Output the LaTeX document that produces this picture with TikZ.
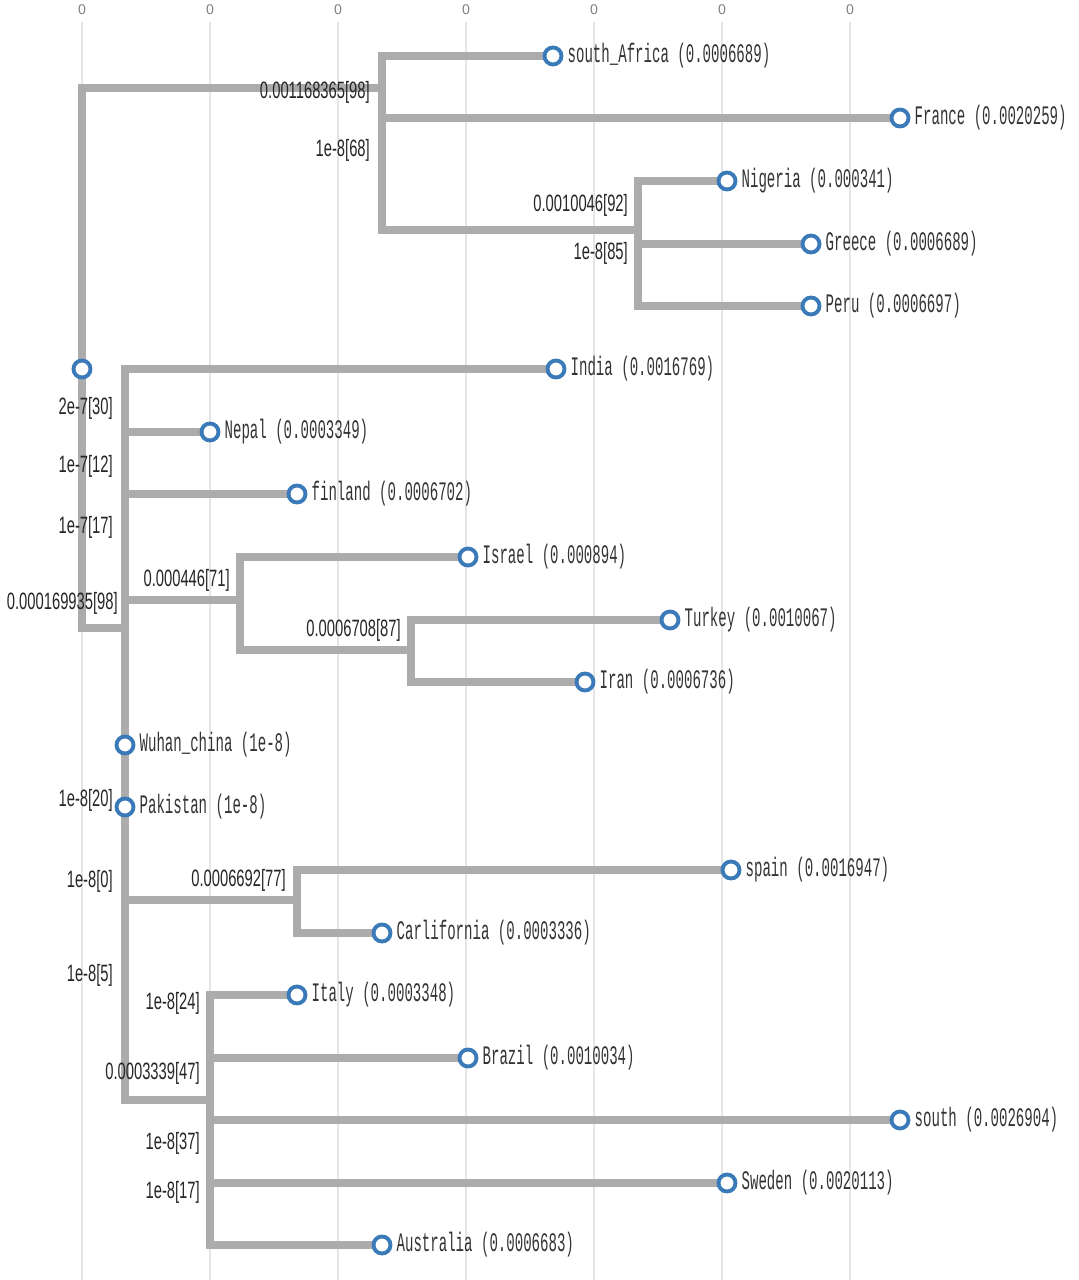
\documentclass[tikz,border=0pt]{standalone}
\usepackage{fontspec}
\setmonofont{Liberation Mono}
\setsansfont{Liberation Sans}
\usetikzlibrary{positioning}
\definecolor{nodeblue}{RGB}{58,122,184}
\begin{document}
\begin{tikzpicture}[x=0.01cm,y=-0.01cm,
  branch/.style={draw=gray!65,line width=2.2pt},
  leaf/.style={circle,draw=nodeblue,fill=white,line width=1.1pt,inner sep=0pt,minimum size=0.17cm},
  taxon/.style={right,inner sep=1pt,font=\ttfamily\fontsize{4}{5}\selectfont,yscale=1.9,transform shape,text=black!80},
  blen/.style={left,inner sep=1pt,font=\sffamily\fontsize{4.2}{5}\selectfont,yscale=1.6,transform shape,text=black!85}]
  \useasboundingbox (0,0) rectangle (1078,1280);
  % grid
  \foreach \gx in {82,210,338,466,594,722,850}{
    \draw[gray!20,line width=0.4pt] (\gx,22) -- (\gx,1280);
    \node[font=\sffamily\fontsize{4}{5}\selectfont,text=gray] at (\gx,10) {0};}
  % inner points
  \coordinate (r) at (82,369);
  \coordinate (a) at (382,88);
  \coordinate (b) at (638,230);
  \coordinate (c) at (125,628);
  \coordinate (d) at (240,600);
  \coordinate (e) at (411,650);
  \coordinate (f) at (297,900);
  \coordinate (g) at (210,1100);
  % leaves
  \coordinate (sa) at (553,56);
  \coordinate (fr) at (900,118);
  \coordinate (ng) at (727,181);
  \coordinate (gr) at (811,244);
  \coordinate (pe) at (811,306);
  \coordinate (in) at (556,369);
  \coordinate (ne) at (210,432);
  \coordinate (fi) at (297,494);
  \coordinate (is) at (468,557);
  \coordinate (tu) at (670,620);
  \coordinate (ir) at (585,682);
  \coordinate (wu) at (125,745);
  \coordinate (pa) at (125,807);
  \coordinate (sp) at (731,870);
  \coordinate (ca) at (382,933);
  \coordinate (it) at (297,995);
  \coordinate (br) at (468,1058);
  \coordinate (so) at (900,1120);
  \coordinate (sw) at (727,1183);
  \coordinate (au) at (382,1245);
  % branches
  \path[branch] (r) |- (a) (a) |- (sa) (a) |- (fr) (a) |- (b)
    (b) |- (ng) (b) |- (gr) (b) |- (pe)
    (r) |- (c) (c) |- (in) (c) |- (ne) (c) |- (fi) (c) |- (d)
    (d) |- (is) (d) |- (e) (e) |- (tu) (e) |- (ir)
    (c) -- (wu) (c) |- (f) (f) |- (sp) (f) |- (ca)
    (c) |- (g) (g) |- (it) (g) |- (br) (g) |- (so) (g) |- (sw) (g) |- (au);
  \foreach \n in {r,sa,fr,ng,gr,pe,in,ne,fi,is,tu,ir,wu,pa,sp,ca,it,br,so,sw,au}
    \node[leaf] (\n c) at (\n) {};
  % names
  \node[taxon] at (sac.east) {south\_Africa (0.0006689)};
  \node[taxon] at (frc.east) {France (0.0020259)};
  \node[taxon] at (ngc.east) {Nigeria (0.000341)};
  \node[taxon] at (grc.east) {Greece (0.0006689)};
  \node[taxon] at (pec.east) {Peru (0.0006697)};
  \node[taxon] at (inc.east) {India (0.0016769)};
  \node[taxon] at (nec.east) {Nepal (0.0003349)};
  \node[taxon] at (fic.east) {finland (0.0006702)};
  \node[taxon] at (isc.east) {Israel (0.000894)};
  \node[taxon] at (tuc.east) {Turkey (0.0010067)};
  \node[taxon] at (irc.east) {Iran (0.0006736)};
  \node[taxon] at (wuc.east) {Wuhan\_china (1e-8)};
  \node[taxon] at (pac.east) {Pakistan (1e-8)};
  \node[taxon] at (spc.east) {spain (0.0016947)};
  \node[taxon] at (cac.east) {Carlifornia (0.0003336)};
  \node[taxon] at (itc.east) {Italy (0.0003348)};
  \node[taxon] at (brc.east) {Brazil (0.0010034)};
  \node[taxon] at (soc.east) {south (0.0026904)};
  \node[taxon] at (swc.east) {Sweden (0.0020113)};
  \node[taxon] at (auc.east) {Australia (0.0006683)};
  % branch lengths
  \node[blen] at (374,92) {0.001168365[98]};
  \node[blen] at (374,150) {1e-8[68]};
  \node[blen] at (632,205) {0.0010046[92]};
  \node[blen] at (632,253) {1e-8[85]};
  \node[blen] at (117,408) {2e-7[30]};
  \node[blen] at (117,466) {1e-7[12]};
  \node[blen] at (117,527) {1e-7[17]};
  \node[blen] at (122,603) {0.000169935[98]};
  \node[blen] at (234,580) {0.000446[71]};
  \node[blen] at (405,630) {0.0006708[87]};
  \node[blen] at (117,800) {1e-8[20]};
  \node[blen] at (117,881) {1e-8[0]};
  \node[blen] at (290,880) {0.0006692[77]};
  \node[blen] at (117,975) {1e-8[5]};
  \node[blen] at (204,1003) {1e-8[24]};
  \node[blen] at (204,1073) {0.0003339[47]};
  \node[blen] at (204,1143) {1e-8[37]};
  \node[blen] at (204,1192) {1e-8[17]};
\end{tikzpicture}
\end{document}
